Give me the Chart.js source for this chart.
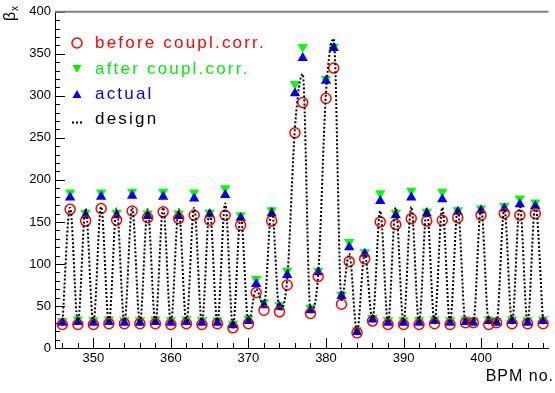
<!DOCTYPE html>
<html>
<head>
<meta charset="utf-8">
<script src="https://cdn.jsdelivr.net/npm/chart.js@4.4.1/dist/chart.umd.min.js"></script>
<style>
html, body { margin: 0; padding: 0; background: #fff; }
#wrap { width: 555px; height: 393px; }
</style>
</head>
<body>
<div id="wrap"><canvas id="graph" width="555" height="393"></canvas></div>
<script>
// BPM numbers along the x axis
var bpm = [346, 347, 348, 349, 350, 351, 352, 353, 354, 355,
    356, 357, 358, 359, 360, 361, 362, 363, 364, 365,
    366, 367, 368, 369, 370, 371, 372, 373, 374, 375,
    376, 377, 378, 379, 380, 381, 382, 383, 384, 385,
    386, 387, 388, 389, 390, 391, 392, 393, 394, 395,
    396, 397, 398, 399, 400, 401, 402, 403, 404, 405,
    406, 407, 408]

var before = [28, 165, 28, 151, 28, 166, 29, 152, 29, 163,
    29, 155, 29, 162, 28, 154, 29, 158, 28, 152,
    29, 158, 24, 146, 29, 66, 45, 151, 43, 75,
    256, 292, 41, 85, 297, 333, 52, 103, 18, 106,
    32, 150, 28, 147, 28, 154, 28, 151, 29, 152,
    28, 155, 30, 30, 158, 28, 30, 160, 29, 158,
    29, 160, 29]

var after = [32, 185, 34, 161, 33, 185, 34, 161, 33, 186,
    33, 160, 34, 186, 33, 160, 34, 185, 33, 161,
    33, 190, 29, 158, 35, 82, 54, 164, 51, 92,
    314, 358, 48, 92, 320, 358, 63, 126, 21, 114,
    36, 184, 33, 161, 33, 187, 33, 162, 34, 186,
    33, 164, 34, 33, 166, 34, 32, 169, 34, 178,
    33, 173, 34]

var actual = [30, 179, 31, 158, 30, 180, 31, 158, 30, 181,
    30, 157, 31, 180, 30, 157, 31, 178, 30, 159,
    30, 182, 27, 155, 32, 76, 51, 160, 49, 87,
    303, 345, 45, 90, 318, 357, 62, 120, 19, 112,
    34, 175, 30, 158, 30, 179, 30, 160, 32, 177,
    30, 162, 31, 30, 164, 32, 30, 166, 32, 171,
    30, 169, 32]

var design = [28, 167, 30, 166, 30, 168, 30, 166, 30, 167,
    30, 165, 30, 167, 30, 165, 30, 167, 30, 165,
    30, 172, 25, 158, 30, 70, 50, 166, 45, 82,
    262, 326, 44, 88, 303, 368, 57, 112, 19, 112,
    33, 163, 30, 167, 30, 168, 30, 166, 30, 167,
    30, 166, 30, 30, 167, 30, 30, 166, 30, 170,
    30, 170, 30]

var xTicks = [350, 360, 370, 380, 390, 400]
var yTicks = [0, 50, 100, 150, 200, 250, 300, 350, 400]
var seriesNames = ['before coupl.corr.', 'after coupl.corr.', 'actual', 'design']

var FONT = '"Liberation Sans", Arial, sans-serif'

function pts(vals) {
    return bpm.map(function (b, i) { return { x: b, y: vals[i] } })
}

// ROOT-style ticks on the inside of the frame
var insideTicks = {
    id: 'insideTicks',
    beforeDatasetsDraw: function (chart) {
        var ctx = chart.ctx
        var xs = chart.scales.x, ys = chart.scales.y
        var a = chart.chartArea
        ctx.save()
        ctx.strokeStyle = '#000'
        ctx.lineWidth = 1
        ctx.beginPath()
        for (var v = 0; v <= 400; v += 10) {
            var py = Math.round(ys.getPixelForValue(v)) + 0.5
            var len = (v % 50 === 0) ? 10 : 5
            ctx.moveTo(a.left, py)
            ctx.lineTo(a.left + len, py)
        }
        for (var u = 346; u <= 408; u += 2) {
            var px = Math.round(xs.getPixelForValue(u)) + 0.5
            var l2 = (u % 10 === 0) ? 10 : 5
            ctx.moveTo(px, a.bottom)
            ctx.lineTo(px, a.bottom - l2)
        }
        ctx.stroke()
        // top frame line
        ctx.strokeStyle = '#808080'
        ctx.lineWidth = 2
        ctx.beginPath()
        ctx.moveTo(a.left, a.top)
        ctx.lineTo(a.right, a.top)
        ctx.stroke()
        ctx.restore()
    }
}

// legend and axis titles
var decorations = {
    id: 'decorations',
    afterDraw: function (chart) {
        var ctx = chart.ctx
        var ds = chart.data.datasets
        var rowsY = [43, 69, 94, 119.5]
        ctx.save()
        ctx.font = '17px ' + FONT
        ctx.letterSpacing = '2.2px'
        ctx.textBaseline = 'middle'
        ctx.textAlign = 'left'
        for (var i = 0; i < seriesNames.length; i++) {
            var d = ds[i]
            var y = rowsY[i]
            var mx = 77
            ctx.fillStyle = d.labelColor
            ctx.strokeStyle = d.labelColor
            if (i === 0) {
                ctx.lineWidth = 1.5
                ctx.beginPath()
                ctx.arc(mx, y, 5, 0, Math.PI * 2)
                ctx.stroke()
            } else if (i === 1) {
                ctx.beginPath()
                ctx.moveTo(mx - 4.5, y - 4)
                ctx.lineTo(mx + 4.5, y - 4)
                ctx.lineTo(mx, y + 4)
                ctx.closePath()
                ctx.fill()
            } else if (i === 2) {
                ctx.beginPath()
                ctx.moveTo(mx - 4.5, y + 4)
                ctx.lineTo(mx + 4.5, y + 4)
                ctx.lineTo(mx, y - 4)
                ctx.closePath()
                ctx.fill()
            } else {
                ctx.fillRect(72, y + 2, 2, 2)
                ctx.fillRect(76, y + 2, 2, 2)
                ctx.fillRect(80, y + 2, 2, 2)
            }
            ctx.fillText(seriesNames[i], 95, y)
        }

        // x title
        ctx.fillStyle = '#000'
        ctx.font = '16px ' + FONT
        ctx.letterSpacing = '1px'
        ctx.textAlign = 'right'
        ctx.textBaseline = 'alphabetic'
        ctx.fillText('BPM no.', 554, 381)

        // y title, rotated: beta with subscript x
        ctx.letterSpacing = '0px'
        ctx.translate(0, 0)
        ctx.rotate(-Math.PI / 2)
        ctx.textAlign = 'left'
        ctx.font = '16px ' + FONT
        ctx.fillText('\u03b2', -21, 15)
        ctx.font = '10px ' + FONT
        ctx.fillText('x', -11, 18)
        ctx.restore()
    }
}

var ctx = document.getElementById('graph').getContext('2d')
var chart = new Chart(ctx, {
    type: 'line',
    data: {
        datasets: [{
            label: seriesNames[0],
            data: pts(before),
            labelColor: '#ff0000',
            showLine: false,
            pointStyle: 'circle',
            pointRadius: 5,
            pointBorderWidth: 1.5,
            pointBorderColor: '#ff0000',
            pointBackgroundColor: 'rgba(0,0,0,0)',
            order: 1
        }, {
            label: seriesNames[1],
            data: pts(after),
            labelColor: '#00ee00',
            showLine: false,
            pointStyle: 'triangle',
            pointRotation: 180,
            pointRadius: 6,
            pointBorderWidth: 0,
            pointBorderColor: '#00ff00',
            pointBackgroundColor: '#00ff00',
            order: 3
        }, {
            label: seriesNames[2],
            data: pts(actual),
            labelColor: '#0000ff',
            showLine: false,
            pointStyle: 'triangle',
            pointRadius: 6,
            pointBorderWidth: 0,
            pointBorderColor: '#0000ff',
            pointBackgroundColor: '#0000ff',
            order: 2
        }, {
            label: seriesNames[3],
            data: pts(design),
            labelColor: '#000000',
            showLine: true,
            borderColor: '#000',
            borderWidth: 2,
            borderDash: [2, 2],
            cubicInterpolationMode: 'monotone',
            pointRadius: 0,
            fill: false,
            order: 0
        }]
    },
    options: {
        responsive: false,
        animation: false,
        events: [],
        clip: false,
        layout: { padding: { top: 5, right: 0, left: 0, bottom: 0 } },
        plugins: {
            legend: { display: false },
            tooltip: { enabled: false },
            title: { display: false }
        },
        scales: {
            x: {
                type: 'linear',
                min: 345.05,
                max: 408.7,
                afterFit: function (s) { s.height = 45 },
                afterBuildTicks: function (s) {
                    s.ticks = xTicks.map(function (v) { return { value: v } })
                },
                ticks: {
                    color: '#000',
                    font: { family: FONT, size: 13 },
                    padding: 3,
                    maxRotation: 0,
                    autoSkip: false
                },
                grid: { display: true, drawOnChartArea: false, drawTicks: false },
                border: { display: true, color: '#000', width: 1 }
            },
            y: {
                min: 0,
                max: 400,
                afterFit: function (s) { s.width = 55 },
                afterBuildTicks: function (s) {
                    s.ticks = yTicks.map(function (v) { return { value: v } })
                },
                ticks: {
                    color: '#000',
                    font: { family: FONT, size: 13 },
                    padding: 4,
                    autoSkip: false
                },
                grid: { display: true, drawOnChartArea: false, drawTicks: false },
                border: { display: true, color: '#000', width: 1 }
            }
        }
    },
    plugins: [insideTicks, decorations]
})
</script>
</body>
</html>
